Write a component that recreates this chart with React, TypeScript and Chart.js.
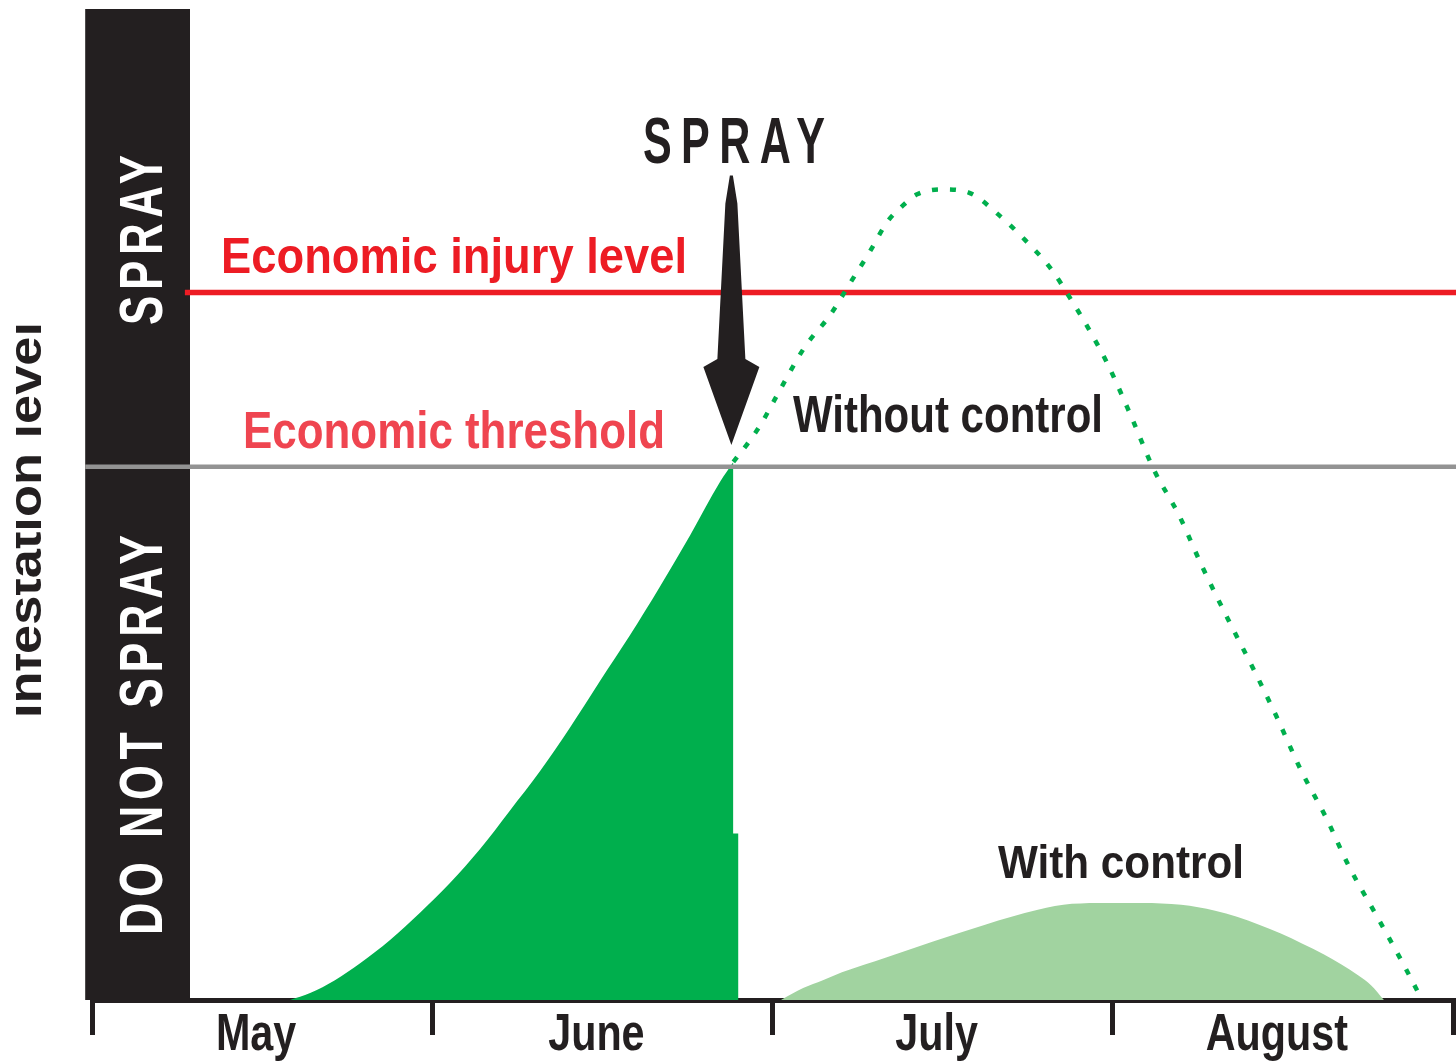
import React, { useEffect, useRef } from 'react';
import { Chart, registerables } from 'chart.js';

Chart.register(...registerables);

// ---------------- data ----------------
const MONTHS = ['May', 'June', 'July', 'August'];
const MONTH_BOUNDARIES = [0, 1, 2, 3, 4];

const LEVEL_MIN = 0;
const LEVEL_MAX = 100;
const ECONOMIC_THRESHOLD = 53.8;
const ECONOMIC_INJURY_LEVEL = 71.4;
const SPRAY_MONTH = 1.885;
const SPRAY_ARROW_LEVELS = [83.2, 56.0];

const BAND_MONTHS = [-0.02, 0.288];
const THRESHOLD_MONTHS = [-0.02, 4.01];
const INJURY_MONTHS = [0.273, 4.01];

// infestation build-up before spraying (solid green)
const BUILDUP_MONTH = [0.582, 0.641, 0.714, 0.788, 0.876, 0.964, 1.052, 1.14, 1.228, 1.317, 1.405, 1.493, 1.581, 1.669, 1.758, 1.846, 1.885];
const BUILDUP_LEVEL = [0, 0.7, 2.0, 3.7, 6.05, 8.8, 11.8, 15.2, 19.1, 23.1, 27.5, 32.2, 36.8, 41.7, 46.9, 52.3, 54.3];
// small residual step at the foot of the spray edge
const STEP_MONTH = [1.88, 1.9];
const STEP_LEVEL = [16.8, 16.8];

// without control (dotted)
const WITHOUT_CONTROL_MONTH = [1.885, 1.928, 1.966, 2.013, 2.095, 2.169, 2.231, 2.284, 2.339, 2.378, 2.425, 2.5, 2.575, 2.669, 2.742, 2.818, 2.877, 2.933, 2.986, 3.054, 3.121, 3.195, 3.262, 3.345, 3.412, 3.48, 3.553, 3.627, 3.694, 3.777, 3.856, 3.909];
const WITHOUT_CONTROL_LEVEL = [54.3, 56.2, 58.1, 61.0, 65.9, 69.1, 72.5, 75.4, 78.6, 80.0, 81.3, 81.8, 81.5, 79.1, 76.7, 73.8, 70.7, 67.5, 64.1, 58.9, 53.5, 48.9, 43.8, 38.0, 33.5, 28.7, 23.2, 18.4, 13.5, 8.4, 3.5, 0];

// with control (light green)
const WITH_CONTROL_MONTH = [2.025, 2.09, 2.148, 2.204, 2.334, 2.472, 2.625, 2.78, 2.88, 2.983, 3.086, 3.201, 3.301, 3.365, 3.43, 3.494, 3.556, 3.621, 3.671, 3.721, 3.759, 3.797];
const WITH_CONTROL_LEVEL = [0, 1.2, 2.0, 2.8, 4.3, 5.9, 7.6, 9.1, 9.7, 9.8, 9.8, 9.6, 9.0, 8.4, 7.6, 6.7, 5.7, 4.6, 3.6, 2.5, 1.5, 0];

// ---------------- styles ----------------
const INK = '#231f20';
const GREEN = '#00af4d';
const LIGHT_GREEN = '#a1d3a0';
const RED = '#ed1c24';
const GRAY = '#939393';
const FONT = '"Liberation Sans", Arial, sans-serif';

const zip = (xs: number[], ys: number[]) => xs.map((x, i) => ({ x, y: ys[i] }));

type TextSpec = {
  x: number;
  y: number;
  cap: number;
  color: string;
  width?: number;
  squeeze?: number;
  align?: 'left' | 'center';
  spacing?: number;
  rotate?: boolean;
};

function drawFitText(ctx: CanvasRenderingContext2D, text: string, s: TextSpec) {
  const size = s.cap / 0.716;
  ctx.save();
  ctx.font = `bold ${size}px ${FONT}`;
  const anyCtx = ctx as any;
  anyCtx.letterSpacing = '0px';
  const w0 = ctx.measureText(text).width;
  const sp = s.spacing ?? 0;
  anyCtx.letterSpacing = `${sp}px`;
  const w1 = ctx.measureText(text).width;
  const raw = w1 > w0 + 0.5 ? w1 - sp : w0;
  const k = s.width ? s.width / raw : s.squeeze ?? 1;
  ctx.translate(s.x, s.y);
  if (s.rotate) ctx.rotate(-Math.PI / 2);
  ctx.scale(k, 1);
  ctx.fillStyle = s.color;
  ctx.textBaseline = 'alphabetic';
  ctx.textAlign = 'left';
  ctx.fillText(text, s.align === 'center' ? -raw / 2 : 0, 0);
  ctx.restore();
}

const decorPlugin = {
  id: 'decor',
  beforeDatasetsDraw(chart: any) {
    const { ctx } = chart;
    const x = chart.scales.x;
    const y = chart.scales.y;
    const bx0 = x.getPixelForValue(BAND_MONTHS[0]);
    const bx1 = x.getPixelForValue(BAND_MONTHS[1]);
    const by0 = y.getPixelForValue(LEVEL_MAX);
    const by1 = y.getPixelForValue(LEVEL_MIN);
    ctx.save();
    ctx.fillStyle = INK;
    ctx.fillRect(bx0, by0, bx1 - bx0, by1 - by0);
    ctx.restore();

    drawFitText(ctx, 'SPRAY', { x: 162, y: 240, cap: 44, color: '#ffffff', width: 170, align: 'center', spacing: 8, rotate: true });
    drawFitText(ctx, 'DO NOT SPRAY', { x: 162, y: 735, cap: 44, color: '#ffffff', width: 400, align: 'center', spacing: 8, rotate: true });

    // y-axis title (cropped on the left in the original)
    ctx.save();
    ctx.beginPath();
    ctx.rect(16, 0, chart.width, chart.height);
    ctx.clip();
    drawFitText(ctx, 'Infestation level', { x: 41, y: 520, cap: 33, color: INK, width: 396, align: 'center', rotate: true });
    ctx.restore();
  },
  afterDatasetsDraw(chart: any) {
    const { ctx } = chart;
    const x = chart.scales.x;
    const y = chart.scales.y;

    // spray arrow
    const ax = x.getPixelForValue(SPRAY_MONTH) - 2;
    const yTop = y.getPixelForValue(SPRAY_ARROW_LEVELS[0]);
    const yTip = y.getPixelForValue(SPRAY_ARROW_LEVELS[1]);
    const yHead = yTip - 82;
    ctx.save();
    ctx.fillStyle = INK;
    ctx.beginPath();
    ctx.moveTo(ax - 1.5, yTop);
    ctx.lineTo(ax + 1.5, yTop);
    ctx.lineTo(ax + 6, yTop + 28);
    ctx.lineTo(ax + 14, yHead - 4);
    ctx.lineTo(ax + 28, yHead + 4);
    ctx.lineTo(ax, yTip);
    ctx.lineTo(ax - 28, yHead + 4);
    ctx.lineTo(ax - 14, yHead - 4);
    ctx.lineTo(ax - 6, yTop + 28);
    ctx.closePath();
    ctx.fill();
    ctx.restore();

    drawFitText(ctx, 'SPRAY', { x: 643, y: 163, cap: 46, color: INK, width: 182, spacing: 14 });
    drawFitText(ctx, 'Economic injury level', { x: 221, y: 273, cap: 36, color: RED, width: 466 });
    drawFitText(ctx, 'Economic threshold', { x: 243, y: 448, cap: 37, color: '#ef4550', width: 422 });
    drawFitText(ctx, 'Without control', { x: 793, y: 432, cap: 37, color: INK, width: 310 });
    drawFitText(ctx, 'With control', { x: 998, y: 878, cap: 33, color: INK, width: 246 });
  },
  afterDraw(chart: any) {
    const { ctx } = chart;
    const x = chart.scales.x;
    const base = chart.chartArea.bottom + 50;
    MONTHS.forEach((m, i) => {
      drawFitText(ctx, m, { x: x.getPixelForValue(i + 0.5) - 6, y: base, cap: 37, color: INK, squeeze: 0.8, align: 'center' });
    });
  },
};

export default function App() {
  const ref = useRef<HTMLCanvasElement>(null);
  useEffect(() => {
    const canvas = ref.current;
    if (!canvas) return;
    const chart = new Chart(canvas, {
      type: 'line',
      data: {
        datasets: [
          {
            label: 'Without control',
            data: zip(WITHOUT_CONTROL_MONTH, WITHOUT_CONTROL_LEVEL),
            borderColor: GREEN,
            borderWidth: 4.5,
            borderDash: [6, 12],
            pointRadius: 0,
            fill: false,
            cubicInterpolationMode: 'monotone',
            order: 0,
          },
          {
            label: 'Economic threshold',
            data: THRESHOLD_MONTHS.map((m) => ({ x: m, y: ECONOMIC_THRESHOLD })),
            borderColor: GRAY,
            borderWidth: 4.5,
            pointRadius: 0,
            fill: false,
            clip: false,
            order: 1,
          },
          {
            label: 'Economic injury level',
            data: INJURY_MONTHS.map((m) => ({ x: m, y: ECONOMIC_INJURY_LEVEL })),
            borderColor: RED,
            borderWidth: 5.5,
            pointRadius: 0,
            fill: false,
            clip: false,
            order: 2,
          },
          {
            label: 'Infestation before spraying',
            data: zip(BUILDUP_MONTH, BUILDUP_LEVEL),
            borderColor: 'rgba(0,0,0,0)',
            borderWidth: 0,
            backgroundColor: GREEN,
            pointRadius: 0,
            fill: 'origin',
            cubicInterpolationMode: 'monotone',
            order: 3,
          },
          {
            label: 'Spray step',
            data: zip(STEP_MONTH, STEP_LEVEL),
            borderColor: 'rgba(0,0,0,0)',
            borderWidth: 0,
            backgroundColor: GREEN,
            pointRadius: 0,
            fill: 'origin',
            tension: 0,
            order: 3,
          },
          {
            label: 'With control',
            data: zip(WITH_CONTROL_MONTH, WITH_CONTROL_LEVEL),
            borderColor: 'rgba(0,0,0,0)',
            borderWidth: 0,
            backgroundColor: LIGHT_GREEN,
            pointRadius: 0,
            fill: 'origin',
            cubicInterpolationMode: 'monotone',
            order: 4,
          },
        ] as any,
      },
      options: {
        responsive: false,
        animation: false,
        events: [],
        layout: { padding: { left: 92, right: 3, top: 9, bottom: 0 } },
        plugins: {
          legend: { display: false },
          tooltip: { enabled: false },
        },
        scales: {
          x: {
            type: 'linear',
            min: 0,
            max: 4,
            z: 1,
            afterBuildTicks: (s: any) => {
              s.ticks = MONTH_BOUNDARIES.map((v) => ({ value: v }));
            },
            afterFit: (s: any) => {
              s.height = 61;
            },
            grid: {
              drawOnChartArea: false,
              drawTicks: true,
              tickLength: 35,
              color: INK,
              lineWidth: 5,
            },
            border: { display: true, color: INK, width: 5 },
            ticks: { display: false },
          },
          y: {
            type: 'linear',
            min: LEVEL_MIN,
            max: LEVEL_MAX,
            display: false,
          },
        },
      } as any,
      plugins: [decorPlugin],
    });
    return () => chart.destroy();
  }, []);

  return (
    <div style={{ position: 'fixed', left: 0, top: 0, width: 1456, height: 1061, background: '#ffffff' }}>
      <canvas ref={ref} width={1456} height={1061} style={{ display: 'block' }} />
    </div>
  );
}
